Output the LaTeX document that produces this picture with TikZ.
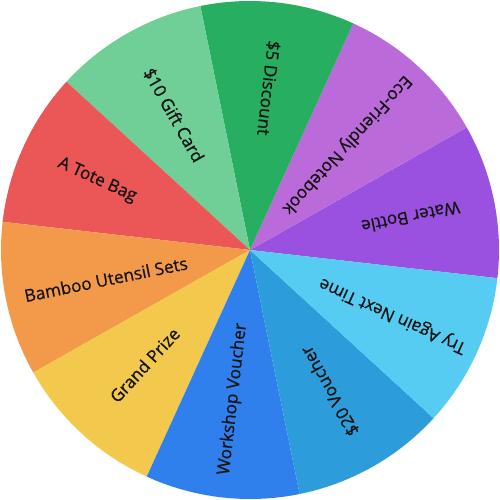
\documentclass[tikz,border=0pt]{standalone}
\usepackage{fontspec}
\setmainfont[FakeBold=0.8]{Open Sans}
\definecolor{cWater}{HTML}{9B51E0}
\definecolor{cEco}{HTML}{BB6BD9}
\definecolor{cFive}{HTML}{27AE60}
\definecolor{cTen}{HTML}{6FCF97}
\definecolor{cTote}{HTML}{EB5757}
\definecolor{cBamboo}{HTML}{F2994A}
\definecolor{cGrand}{HTML}{F2C94C}
\definecolor{cWork}{HTML}{2F80ED}
\definecolor{cTwenty}{HTML}{2D9CDB}
\definecolor{cTry}{HTML}{56CCF2}
\definecolor{cText}{HTML}{141414}
\tikzset{
  lbl/.style={text=cText, font=\fontsize{17.2}{19}\selectfont, inner sep=0pt, anchor=center},
}
\newcommand{\wedgeseg}[2]{%
  \fill[#2] (0,0) -- (#1:249) arc[start angle=#1, end angle=#1+36, radius=249] -- cycle;}
\begin{document}
\begin{tikzpicture}[x=1pt,y=1pt]
\useasboundingbox (-250,-250) rectangle (250,250);
\wedgeseg{-6.5}{cWater}
\wedgeseg{29.5}{cEco}
\wedgeseg{65.5}{cFive}
\wedgeseg{101.5}{cTen}
\wedgeseg{137.5}{cTote}
\wedgeseg{173.5}{cBamboo}
\wedgeseg{209.5}{cGrand}
\wedgeseg{245.5}{cWork}
\wedgeseg{281.5}{cTwenty}
\wedgeseg{317.5}{cTry}
\node[lbl, rotate=191.5] (water) at (11.5:164) {Water Bottle};
\node[lbl, rotate=227.5] (eco) at (47.5:143) {Eco-Friendly Notebook};
\node[lbl, rotate=263.5] (five) at (83.5:163) {\$5 Discount};
\node[lbl, rotate=299.5] (ten) at (119.5:155) {\$10 Gift Card};
\node[lbl, rotate=335.5] (tote) at (155.5:168) {A Tote Bag};
\node[lbl, rotate=11.5] (bamboo) at (191.5:147) {Bamboo Utensil Sets};
\node[lbl, rotate=47.5] (grand) at (227.5:156) {Grand Prize};
\node[lbl, rotate=83.5] (work) at (263.5:150) {Workshop Voucher};
\node[lbl, rotate=119.5] (twenty) at (299.5:162) {\$20 Voucher};
\node[lbl, rotate=155.5] (try) at (335.5:157) {Try Again Next Time};
\end{tikzpicture}
\end{document}
